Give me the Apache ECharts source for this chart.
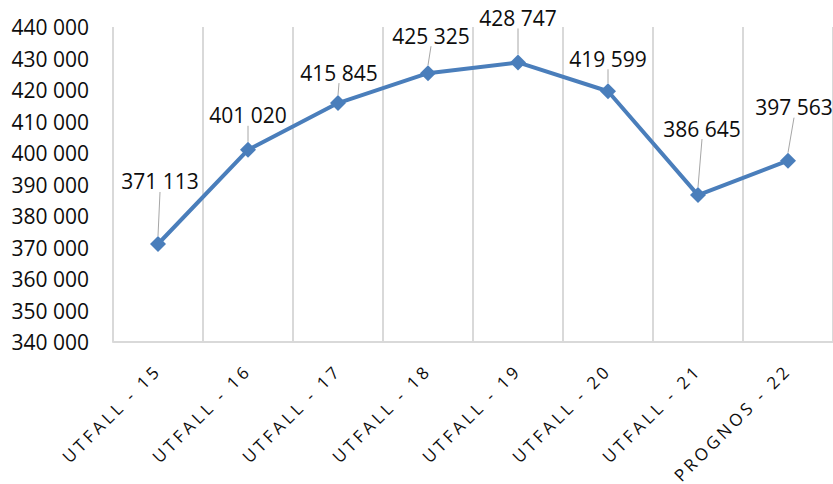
<!DOCTYPE html>
<html>
<head>
<meta charset="utf-8">
<script src="https://cdn.jsdelivr.net/npm/echarts@6/dist/echarts.min.js"></script>
<style>
html,body{margin:0;padding:0;background:#fff;}
#chart{width:833px;height:484px;}
</style>
</head>
<body>
<div id="chart"></div>
<script>
var categories = ['UTFALL - 15','UTFALL - 16','UTFALL - 17','UTFALL - 18','UTFALL - 19','UTFALL - 20','UTFALL - 21','PROGNOS - 22'];
var values = [371113, 401020, 415845, 425325, 428747, 419599, 386645, 397563];
var yMin = 340000, yMax = 440000, yStep = 10000;

function fmt(v){ return String(v).replace(/\B(?=(\d{3})+(?!\d))/g, ' '); }

// label nudges (style only)
var labelShift = [[2,-39],[0,-11],[1,-7],[3,-14],[0,-21],[0,-9],[4,-43],[6,-30]];

var chart = echarts.init(document.getElementById('chart'), null, {renderer: 'svg'});
chart.setOption({
  animation: false,
  grid: {left: 113, right: 0, top: 27, bottom: 142},
  xAxis: {
    type: 'category',
    data: categories,
    boundaryGap: true,
    axisLine: {show: true, lineStyle: {color: '#d9d9d9', width: 2}},
    axisTick: {show: false},
    splitLine: {show: true, lineStyle: {color: '#d9d9d9', width: 2}},
    axisLabel: {
      rotate: 45, interval: 0, margin: 25,
      fontFamily: 'Open Sans', fontSize: 17, color: '#0d0d0d'
    }
  },
  yAxis: {
    type: 'value',
    min: yMin, max: yMax, interval: yStep,
    axisLine: {show: false},
    axisTick: {show: false},
    splitLine: {show: false},
    axisLabel: {
      margin: 24,
      fontFamily: 'Open Sans', fontSize: 21, color: '#0d0d0d',
      formatter: function(v){ return fmt(v); }
    }
  },
  series: [{
    type: 'line',
    data: values,
    symbol: 'diamond',
    symbolSize: 16,
    lineStyle: {color: '#4a7ebb', width: 4},
    itemStyle: {color: '#4a7ebb'},
    label: {
      show: true, position: 'top', distance: 5,
      fontFamily: 'Open Sans', fontSize: 21, color: '#0d0d0d',
      formatter: function(p){ return fmt(p.value); }
    },
    labelLine: {show: true, lineStyle: {color: '#a6a6a6', width: 1}},
    labelLayout: function(p){
      var s = labelShift[p.dataIndex];
      return {dx: s[0], dy: s[1]};
    }
  }]
});

// widen the category labels with letter spacing, as in the original
var texts = document.querySelectorAll('#chart svg text');
for (var i = 0; i < texts.length; i++) {
  if (categories.indexOf(texts[i].textContent) >= 0) {
    texts[i].style.letterSpacing = '3.5px';
  }
}
</script>
</body>
</html>
